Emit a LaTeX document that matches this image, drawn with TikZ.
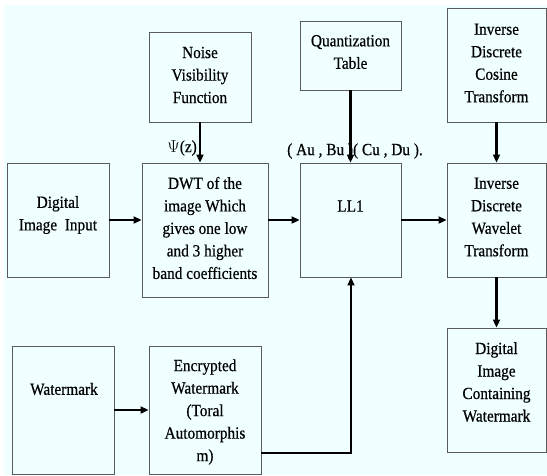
\documentclass[tikz,border=0pt]{standalone}
\usepackage{fontspec}
\setmainfont{Liberation Serif}[FakeStretch=0.9,FakeBold=0.5]
\usetikzlibrary{arrows.meta}
\definecolor{bgcyan}{RGB}{240,255,255}
\definecolor{boxgray}{RGB}{90,90,90}
\tikzset{
  box/.style={draw=boxgray, line width=0.9pt, inner sep=0pt},
  txt/.style={align=center, inner sep=0pt, font=\fontsize{17}{22.5}\selectfont},
  arr/.style={line width=2.2pt, -{Triangle[length=8pt,width=7pt]}},
  wire/.style={line width=2.2pt}
}
\begin{document}
\begin{tikzpicture}[x=1pt,y=-1pt]
\useasboundingbox (0,0) rectangle (547,475);
\fill[white] (0,0) rectangle (547,475);
\fill[bgcyan] (4,5) rectangle (547,475);
% boxes
\node[box, minimum width=102pt, minimum height=90pt] (noise) at (200,77) {};
\node[box, minimum width=102pt, minimum height=114pt] (dii) at (58,220) {};
\node[box, minimum width=126pt, minimum height=134pt] (dwt) at (205,230) {};
\node[box, minimum width=101pt, minimum height=69pt] (quant) at (350.5,55.5) {};
\node[box, minimum width=101pt, minimum height=114pt] (ll1) at (350.5,220) {};
\node[box, minimum width=99pt, minimum height=114pt] (idct) at (496.5,65) {};
\node[box, minimum width=99pt, minimum height=114pt] (idwt) at (496.5,220) {};
\node[box, minimum width=102pt, minimum height=128pt] (wm) at (63,410) {};
\node[box, minimum width=112pt, minimum height=128pt] (enc) at (205,410) {};
\node[box, minimum width=99pt, minimum height=124pt] (dicw) at (496.5,390) {};
% texts
\node[txt] (tnoise) at (200,75) {Noise\\Visibility\\Function};
\node[txt] (tdii) at (58,215) {Digital\\Image~~Input};
\node[txt] (tdwt) at (205,228) {DWT of the\\image Which\\gives one low\\and 3 higher\\band coefficients};
\node[txt] (tquant) at (350.5,52) {Quantization\\Table};
\node[txt] (tll1) at (350.5,206) {LL1};
\node[txt] (tidct) at (496.5,63) {Inverse\\Discrete\\Cosine\\Transform};
\node[txt] (tidwt) at (496.5,217) {Inverse\\Discrete\\Wavelet\\Transform};
\node[txt] (twm) at (64,389) {Watermark};
\node[txt] (tenc) at (205,412) {Encrypted\\Watermark\\(Toral\\Automorphis\\m)};
\node[txt] (tdicw) at (496.5,382) {Digital\\Image\\Containing\\Watermark};
\node[txt, anchor=east] (psi) at (197,148) {$\Psi$(z)};
\node[txt] (coef) at (355,151) {( Au , Bu )( Cu , Du ).};
% connectors
\draw[arr] (noise.south) -- (noise.south |- dwt.north);
\draw[arr] (dii.east) -- (dwt.west |- dii.east);
\draw[arr] (dwt.east |- ll1.west) -- (ll1.west);
\draw[arr] (quant.south) -- (ll1.north);
\draw[arr] (ll1.east) -- (idwt.west);
\draw[arr] (idct.south) -- (idwt.north);
\draw[arr] (idwt.south) -- (dicw.north);
\draw[arr] (wm.east) -- (enc.west);
\coordinate (corner) at (351,453);
\draw[wire, -{Triangle[length=8pt,width=7pt]}] (enc.east |- corner) -- (corner) -- (corner |- ll1.south);
\end{tikzpicture}
\end{document}
